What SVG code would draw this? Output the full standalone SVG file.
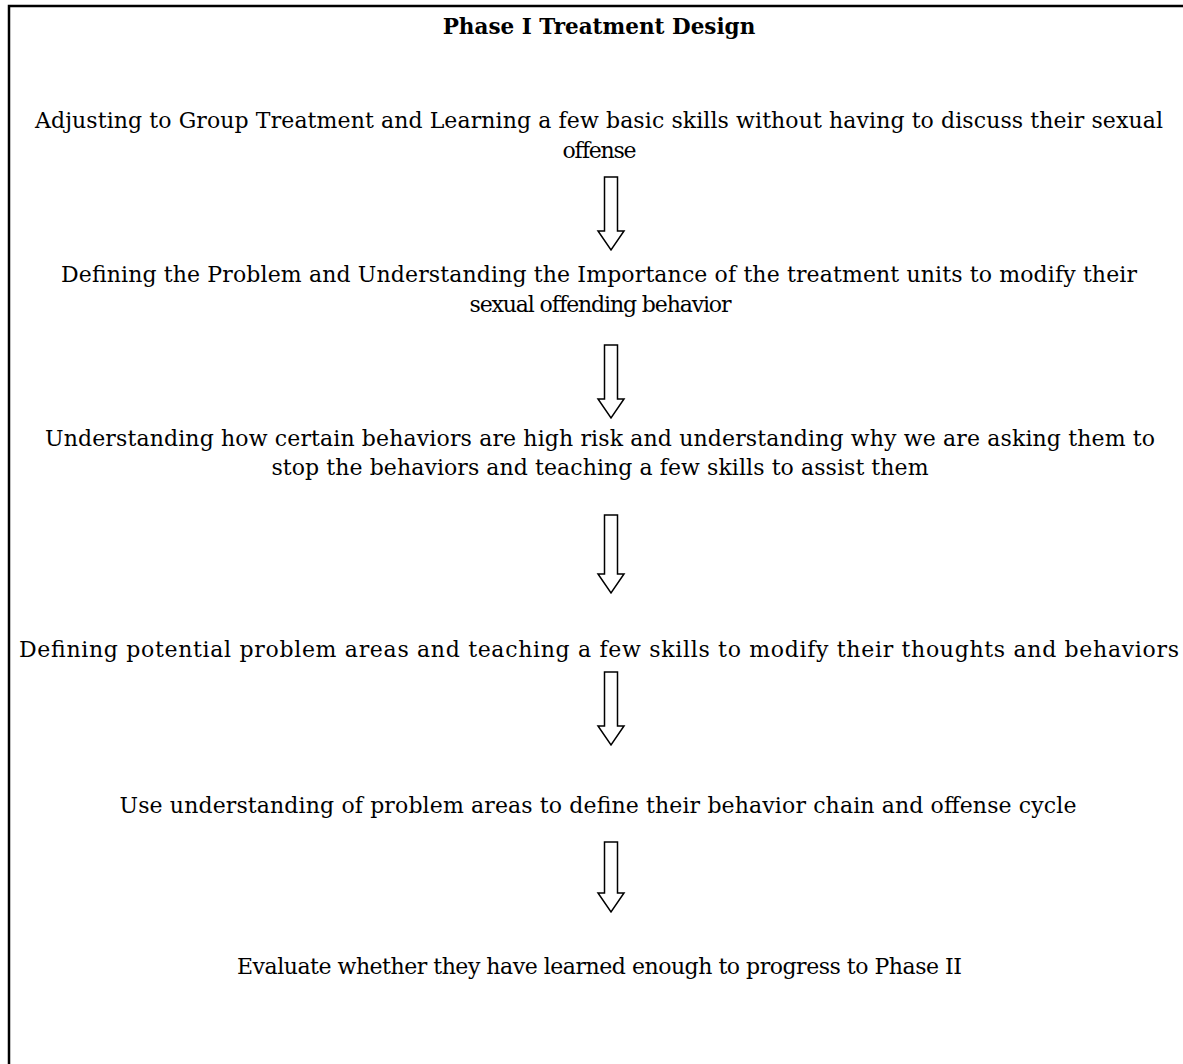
<svg xmlns="http://www.w3.org/2000/svg" width="1183" height="1064" viewBox="0 0 1183 1064">
<style>
.t{font-family:"DejaVu Serif","Liberation Serif",serif;font-size:22px;fill:#000;text-anchor:middle}
.b{font-weight:bold;font-size:21.5px}
.a{fill:#fff;stroke:#000;stroke-width:1.5;stroke-linejoin:miter}
</style>
<rect width="1183" height="1064" fill="#fff"/>
<path d="M9,1064 V6 H1183" fill="none" stroke="#000" stroke-width="2.5"/>
<g id="title"><text class="t b" x="599" y="34">Phase I Treatment Design</text></g>
<g id="n1"><text class="t" x="599" y="128" textLength="1128">Adjusting to Group Treatment and Learning a few basic skills without having to discuss their sexual</text><text class="t" x="599.5" y="158" textLength="74">offense</text></g>
<g id="n2"><text class="t" x="599" y="282" textLength="1076">Defining the Problem and Understanding the Importance of the treatment units to modify their</text><text class="t" x="600.5" y="312" textLength="262">sexual offending behavior</text></g>
<g id="n3"><text class="t" x="600" y="446" textLength="1110">Understanding how certain behaviors are high risk and understanding why we are asking them to</text><text class="t" x="600" y="475" textLength="657">stop the behaviors and teaching a few skills to assist them</text></g>
<g id="n4"><text class="t" x="599" y="657" textLength="1160">Defining potential problem areas and teaching a few skills to modify their thoughts and behaviors</text></g>
<g id="n5"><text class="t" x="598" y="813" textLength="957">Use understanding of problem areas to define their behavior chain and offense cycle</text></g>
<g id="n6"><text class="t" x="599.5" y="974" textLength="725">Evaluate whether they have learned enough to progress to Phase II</text></g>
<g id="connectors">
<polygon class="a" points="604.5,177 617.5,177 617.5,231 624,231 611,250 598,231 604.5,231"/>
<polygon class="a" points="604.5,345 617.5,345 617.5,399 624,399 611,418 598,399 604.5,399"/>
<polygon class="a" points="604.5,515 617.5,515 617.5,574 624,574 611,593 598,574 604.5,574"/>
<polygon class="a" points="604.5,672 617.5,672 617.5,726 624,726 611,745 598,726 604.5,726"/>
<polygon class="a" points="604.5,842 617.5,842 617.5,893 624,893 611,912 598,893 604.5,893"/>
</g>
</svg>
